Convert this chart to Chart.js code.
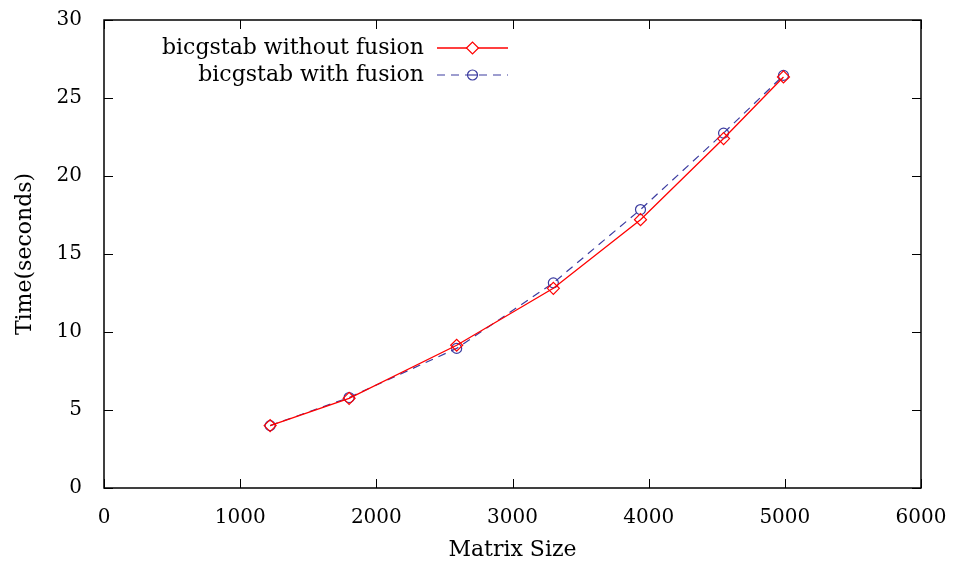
<!DOCTYPE html>
<html>
<head>
<meta charset="utf-8">
<script src="https://cdn.jsdelivr.net/npm/chart.js@4/dist/chart.umd.min.js"></script>
<style>
  html, body { margin: 0; padding: 0; background: #fff; }
  #wrap { width: 953px; height: 569px; }
</style>
</head>
<body>
<div id="wrap"><canvas id="timeChart" width="953" height="569"></canvas></div>
<script>
// values
const matrixSize = [1220, 1800, 2590, 3300, 3940, 4550, 4990];
const timeWithoutFusion = [4.0, 5.75, 9.15, 12.8, 17.2, 22.4, 26.35];
const timeWithFusion = [4.0, 5.8, 8.95, 13.15, 17.85, 22.75, 26.45];
const seriesLabels = ["bicgstab without fusion", "bicgstab with fusion"];
const xTickValues = [0, 1000, 2000, 3000, 4000, 5000, 6000];
const yTickValues = [0, 5, 10, 15, 20, 25, 30];

const FONT = "'DejaVu Serif', 'Liberation Serif', serif";
const TICK_SIZE = 20;
const TEXT_SIZE = 22;
const toPoints = (xs, ys) => xs.map((x, i) => ({ x: x, y: ys[i] }));

// gnuplot style frame with inward ticks on all four sides
const framePlugin = {
  id: "frame",
  afterDraw(chart) {
    const ctx = chart.ctx;
    const a = chart.chartArea;
    const xs = chart.scales.x, ys = chart.scales.y;
    const len = 9;
    ctx.save();
    ctx.strokeStyle = "#000";
    ctx.lineWidth = 1;
    ctx.beginPath();
    xTickValues.forEach(v => {
      const px = Math.round(xs.getPixelForValue(v)) + 0.5;
      ctx.moveTo(px, a.bottom); ctx.lineTo(px, a.bottom - len);
      ctx.moveTo(px, a.top); ctx.lineTo(px, a.top + len);
    });
    yTickValues.forEach(v => {
      const py = Math.round(ys.getPixelForValue(v)) + 0.5;
      ctx.moveTo(a.left, py); ctx.lineTo(a.left + len, py);
      ctx.moveTo(a.right, py); ctx.lineTo(a.right - len, py);
    });
    ctx.stroke();
    ctx.lineWidth = 1.5;
    ctx.strokeRect(a.left, a.top, a.right - a.left, a.bottom - a.top);
    ctx.restore();
  }
};

// legend: right aligned text followed by line sample with marker
const keyPlugin = {
  id: "key",
  afterDraw(chart) {
    const ctx = chart.ctx;
    const textRight = 424, lineStart = 437, lineEnd = 508;
    const mid = (lineStart + lineEnd) / 2;
    const rows = [48, 75];
    ctx.save();
    ctx.font = TEXT_SIZE + "px " + FONT;
    ctx.textAlign = "right";
    ctx.textBaseline = "middle";
    chart.data.datasets.forEach((ds, i) => {
      const y = rows[i];
      ctx.fillStyle = "#000";
      ctx.fillText(ds.label, textRight, y);
      ctx.strokeStyle = ds.borderColor;
      ctx.lineWidth = ds.borderWidth;
      ctx.setLineDash(ds.borderDash || []);
      ctx.beginPath();
      ctx.moveTo(lineStart, y); ctx.lineTo(lineEnd, y);
      ctx.stroke();
      ctx.setLineDash([]);
      ctx.strokeStyle = ds.pointBorderColor;
      ctx.fillStyle = "#fff";
      ctx.lineWidth = ds.pointBorderWidth;
      Chart.helpers.drawPoint(ctx, {
        pointStyle: ds.pointStyle, radius: ds.pointRadius, rotation: 0, borderWidth: ds.pointBorderWidth
      }, mid, y);
      if (ds.pointStyle === "circle") {
        ctx.beginPath();
        ctx.moveTo(mid - ds.pointRadius, y);
        ctx.lineTo(mid + ds.pointRadius, y);
        ctx.stroke();
      }
    });
    ctx.restore();
  }
};

const noScalePadding = s => { s.paddingTop = 0; s.paddingBottom = 0; s.paddingLeft = 0; s.paddingRight = 0; };

new Chart(document.getElementById("timeChart"), {
  type: "scatter",
  data: {
    datasets: [{
      label: seriesLabels[0],
      data: toPoints(matrixSize, timeWithoutFusion),
      showLine: true,
      borderColor: "#ff0000",
      borderWidth: 1.3,
      pointStyle: "rectRot",
      pointRadius: 6,
      pointBorderWidth: 1.2,
      pointBorderColor: "#ff0000",
      pointBackgroundColor: "rgba(0,0,0,0)"
    }, {
      label: seriesLabels[1],
      data: toPoints(matrixSize, timeWithFusion),
      showLine: true,
      borderColor: "#3c3ca0",
      borderWidth: 1.2,
      borderDash: [8, 6],
      pointStyle: "circle",
      pointRadius: 5,
      pointBorderWidth: 1.2,
      pointBorderColor: "#3c3ca0",
      pointBackgroundColor: "rgba(0,0,0,0)"
    }]
  },
  options: {
    responsive: false,
    animation: false,
    layout: { padding: { left: 0, top: 20, right: 32, bottom: 0 } },
    plugins: { legend: { display: false }, tooltip: { enabled: false } },
    scales: {
      x: {
        type: "linear", min: 0, max: 6000,
        afterFit: s => { s.height = 81; noScalePadding(s); },
        afterBuildTicks: s => { s.ticks = xTickValues.map(v => ({ value: v })); },
        grid: { display: false },
        border: { display: false },
        ticks: { color: "#000", font: { family: FONT, size: TICK_SIZE }, padding: 10, maxRotation: 0, callback: v => String(v) },
        title: { display: true, text: "Matrix Size", color: "#000", font: { family: FONT, size: TEXT_SIZE }, padding: { top: 4, bottom: 6 } }
      },
      y: {
        type: "linear", min: 0, max: 30,
        afterFit: s => { s.width = 104; noScalePadding(s); },
        afterBuildTicks: s => { s.ticks = yTickValues.map(v => ({ value: v })); },
        grid: { display: false },
        border: { display: false },
        ticks: { color: "#000", font: { family: FONT, size: TICK_SIZE }, padding: 14, callback: v => String(v) },
        title: { display: true, text: "Time(seconds)", color: "#000", font: { family: FONT, size: TEXT_SIZE }, padding: { top: 12, bottom: 0 } }
      }
    }
  },
  plugins: [framePlugin, keyPlugin]
});
</script>
</body>
</html>
